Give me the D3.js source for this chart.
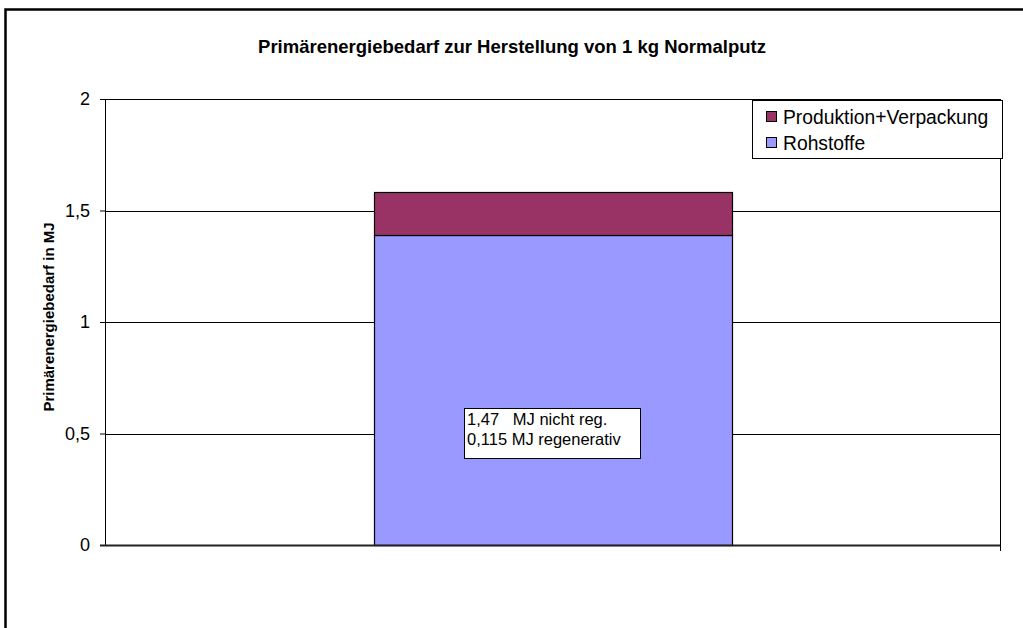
<!DOCTYPE html>
<html lang="de">
<head>
  <meta charset="UTF-8" />
  <title>Primärenergiebedarf Normalputz</title>
  <script src="https://d3js.org/d3.v7.min.js"></script>
  <style>
    body {
      margin: 0;
      background: #fff;
      font-family: Arial, 'Liberation Sans', sans-serif;
    }
    svg { display: block; }
  </style>
</head>
<body>
  <svg id="chart"></svg>

  <script>
    // data
    const categories = ["Normalputz"];
    const seriesNames = ["Rohstoffe", "Produktion+Verpackung"];
    const rohstoffe = [1.39];
    const produktion = [0.195];
    const yTicks = [0, 0.5, 1, 1.5, 2];
    const noteLines = ["1,47   MJ nicht reg.", "0,115 MJ regenerativ"];

    const colors = {
      "Rohstoffe": "#9999ff",
      "Produktion+Verpackung": "#993366"
    };

    const W = 1023, H = 628;
    const svg = d3.select("#chart").attr("width", W).attr("height", H);

    const margin = { top: 99, right: 23, bottom: 83, left: 105 };
    const width = W - margin.left - margin.right;
    const height = H - margin.top - margin.bottom;

    // outer frame (cut off at right and bottom)
    svg.append("rect")
      .attr("x", 5.5).attr("y", 9.5)
      .attr("width", W + 10).attr("height", H + 10)
      .attr("fill", "none")
      .attr("stroke", "#000")
      .attr("stroke-width", 2.5);

    svg.append("text")
      .attr("x", 512).attr("y", 53)
      .attr("text-anchor", "middle")
      .attr("font-size", "18.5px")
      .attr("font-weight", "bold")
      .text("Primärenergiebedarf zur Herstellung von 1 kg Normalputz");

    const g = svg.append("g").attr("transform", `translate(${margin.left},${margin.top})`);

    const x = d3.scaleBand().domain(categories).range([0, width]).paddingInner(0.6).paddingOuter(0.3);
    const y = d3.scaleLinear().domain([0, 2]).range([height, 0]);

    // gridlines
    g.append("g")
      .selectAll("line")
      .data(yTicks.filter(d => d > 0))
      .join("line")
      .attr("x1", 0).attr("x2", width)
      .attr("y1", d => Math.round(y(d)) + 0.5).attr("y2", d => Math.round(y(d)) + 0.5)
      .attr("stroke", "#000")
      .attr("stroke-width", 1);

    // plot border right
    g.append("line")
      .attr("x1", width + 0.5).attr("x2", width + 0.5)
      .attr("y1", 0).attr("y2", height + 6)
      .attr("stroke", "#000");

    // stacked bars
    const stackData = categories.map((c, i) => ({
      cat: c,
      "Rohstoffe": rohstoffe[i],
      "Produktion+Verpackung": produktion[i]
    }));
    const stacked = d3.stack().keys(seriesNames)(stackData);

    g.selectAll(".layer")
      .data(stacked)
      .join("g")
      .attr("class", "layer")
      .attr("fill", d => colors[d.key])
      .selectAll("rect")
      .data(d => d)
      .join("rect")
      .attr("x", d => Math.round(x(d.data.cat)) + 0.5)
      .attr("y", d => Math.round(y(d[1])) + 0.5)
      .attr("width", Math.round(x.bandwidth()))
      .attr("height", d => Math.round(y(d[0])) - Math.round(y(d[1])))
      .attr("stroke", "#000")
      .attr("stroke-width", 1.2);

    // y axis
    const yAxis = g.append("g")
      .call(d3.axisLeft(y).tickValues(yTicks).tickSize(5).tickPadding(10)
        .tickFormat(d => String(d).replace(".", ",")));
    yAxis.select(".domain").attr("stroke", "#000");
    yAxis.selectAll("text").attr("font-size", "18px").attr("font-family", "Arial, 'Liberation Sans', sans-serif").attr("fill", "#000");

    // x axis baseline
    g.append("line")
      .attr("x1", -5).attr("x2", width)
      .attr("y1", height + 0.5).attr("y2", height + 0.5)
      .attr("stroke", "#222")
      .attr("stroke-width", 2);

    // y axis title
    svg.append("text")
      .attr("transform", `translate(54,${margin.top + height / 2 - 5}) rotate(-90)`)
      .attr("text-anchor", "middle")
      .attr("font-size", "15px")
      .attr("font-weight", "bold")
      .text("Primärenergiebedarf in MJ");

    // annotation box
    const note = svg.append("g").attr("transform", "translate(464,408)");
    note.append("rect")
      .attr("x", 0.5).attr("y", 0.5)
      .attr("width", 176).attr("height", 50)
      .attr("fill", "#fff")
      .attr("stroke", "#000");
    note.selectAll("text")
      .data(noteLines)
      .join("text")
      .attr("x", 3)
      .attr("y", (d, i) => 17 + i * 20)
      .attr("font-size", "16.5px")
      .style("white-space", "pre")
      .text(d => d);

    // legend
    const legend = svg.append("g").attr("transform", "translate(752,100)");
    legend.append("rect")
      .attr("x", 0.5).attr("y", 0.5)
      .attr("width", 250).attr("height", 58)
      .attr("fill", "#fff")
      .attr("stroke", "#000");
    const legendItems = ["Produktion+Verpackung", "Rohstoffe"];
    const li = legend.selectAll(".li")
      .data(legendItems)
      .join("g")
      .attr("class", "li")
      .attr("transform", (d, i) => `translate(14,${17 + i * 26})`);
    li.append("rect")
      .attr("x", 0.5).attr("y", -5.5)
      .attr("width", 10).attr("height", 10)
      .attr("fill", d => colors[d])
      .attr("stroke", "#000");
    li.append("text")
      .attr("x", 17).attr("y", 7)
      .attr("font-size", "19.3px")
      .text(d => d);
  </script>
</body>
</html>
